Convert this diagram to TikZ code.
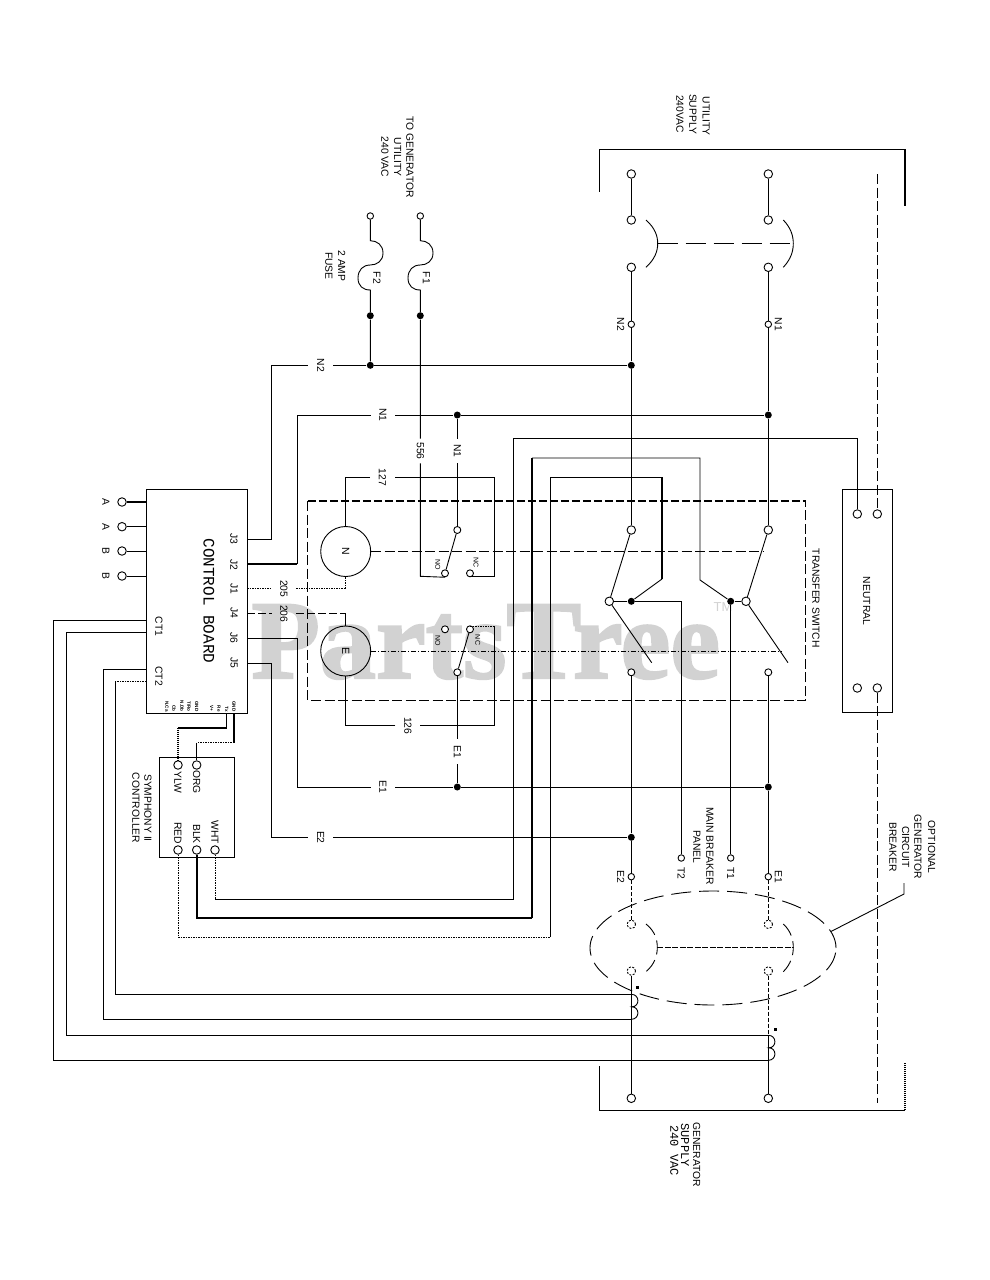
\documentclass[tikz,border=0pt]{standalone}
\usepackage{fontspec}
\setmainfont{Liberation Sans}
\setmonofont{Liberation Mono}
\newfontfamily\wmfont[BoldFeatures={FakeBold=2}]{Liberation Serif}
\usetikzlibrary{shapes.geometric}
\definecolor{wmgray}{HTML}{D2D2D2}
\tikzstyle{wire} = [line width=0.9pt, draw=black]
\tikzstyle{thickwire} = [line width=2pt, draw=black]
\tikzstyle{medwire} = [line width=1.2pt, draw=black]
\tikzstyle{dotwire} = [line width=1pt, draw=black, dash pattern=on 1.5pt off 1pt]
\tikzstyle{densewire} = [line width=1.3pt, draw=black, dash pattern=on 1.5pt off 0.5pt]
\tikzstyle{dashwire} = [line width=0.9pt, draw=black, dash pattern=on 10pt off 3.5pt]
\tikzstyle{thickdash} = [line width=1.5pt, draw=black, dash pattern=on 8pt off 3pt]
\tikzstyle{longdash} = [line width=0.9pt, draw=black, dash pattern=on 20pt off 8pt]
\tikzstyle{dashdot} = [line width=0.9pt, draw=black, dash pattern=on 5pt off 2pt on 1pt off 2pt]
\tikzstyle{term} = [circle, draw=black, fill=white, inner sep=0pt, minimum size=8.5pt]
\tikzstyle{smallterm} = [term, minimum size=6.5pt]
\tikzstyle{dashterm} = [circle, draw=black, inner sep=0pt, minimum size=8.5pt, dash pattern=on 2pt off 1.5pt]
\tikzstyle{junction} = [circle, fill=black, inner sep=0pt, minimum size=7pt]
\tikzstyle{ctdot} = [rectangle, fill=black, inner sep=0pt, minimum size=3pt]
\tikzstyle{motor} = [circle, draw=black, inner sep=0pt, minimum size=50pt, rotate=-90, font=\fontsize{10.5}{10.5}\selectfont]
\tikzstyle{lbl} = [rotate=-90, inner sep=0pt, font=\fontsize{10.3}{12}\selectfont]
\tikzstyle{sidelbl} = [lbl, anchor=west]
\tikzstyle{wirelbl} = [lbl, minimum width=24pt, minimum height=24pt]
\tikzstyle{tinylbl} = [lbl, anchor=east, font=\bfseries\fontsize{4.6}{5}\selectfont]
\tikzstyle{relaylbl} = [lbl, font=\fontsize{7}{8}\selectfont]
\begin{document}
\begin{tikzpicture}[x=1pt,y=-1pt,line width=0.9pt]
	\useasboundingbox (0,0) rectangle (989,1280);
	% watermark
	\node (wmark) [anchor=base west, inner sep=0pt, text=wmgray, font=\wmfont\bfseries\fontsize{112}{112}\selectfont] at (251,678) {PartsTree};
	\node (wmtm) [text=wmgray, inner sep=0pt, font=\fontsize{13}{13}\selectfont] at (723,607) {TM};

	% boxes
	\node (board) [draw=black, minimum width=100.7pt, minimum height=223.7pt] at (196.6,601.2) {};
	\node (sym) [draw=black, minimum width=74.7pt, minimum height=100pt] at (196.7,807.3) {};
	\node (tsbox) [minimum width=497pt, minimum height=198.3pt] at (556.8,600.8) {};
	\draw[dashwire] (tsbox.north west) -- (tsbox.south west) -- (tsbox.south east) -- (tsbox.north east);
	\draw[thickdash] (tsbox.north west) -- (tsbox.north east);
	\node (neutralbox) [draw=black, minimum width=50pt, minimum height=223.4pt] at (867.3,601) {};
	\node (genbrk) [ellipse, longdash, inner sep=0pt, minimum width=246pt, minimum height=114pt] at (713,948) {};
	\draw[wire] (599.3,191.7) -- (599.3,149.3) -- (905,149.3);
	\draw[densewire] (905,149.3) -- (905,205.7);
	\draw[wire] (599.3,1066) -- (599.3,1110.3) -- (905,1110.3);
	\draw[densewire] (905,1110.3) -- (905,1062.3);

	% terminals
	\node (pinA1) [term] at (122,502) {};
	\node (pinA2) [term] at (122,526.7) {};
	\node (pinB1) [term] at (122,551) {};
	\node (pinB2) [term] at (122,576) {};
	\node (ylw) [term] at (178,765) {};
	\node (org) [term] at (196.7,765) {};
	\node (red) [term] at (178,850) {};
	\node (blk) [term] at (196.7,850) {};
	\node (wht) [term] at (215,850) {};
	\node (f2top) [smallterm] at (370.3,216) {};
	\node (f1top) [smallterm] at (420.3,216) {};
	\node (utilL1) [term] at (631.3,174) {};
	\node (utilL2) [term] at (631.3,220) {};
	\node (utilL3) [term] at (631.3,267.3) {};
	\node (utilR1) [term] at (768.3,174) {};
	\node (utilR2) [term] at (768.3,220) {};
	\node (utilR3) [term] at (768.3,267.3) {};
	\node (smallN2) [smallterm] at (631.3,324.3) {};
	\node (smallN1) [smallterm] at (768.3,324.3) {};
	\node (upperL) [term] at (631.3,530) {};
	\node (upperR) [term] at (768.3,530) {};
	\node (pivotL) [term] at (609.3,601.3) {};
	\node (pivotR) [term] at (746,601.3) {};
	\node (lowerL) [smallterm, minimum size=7pt] at (631.3,672.3) {};
	\node (lowerR) [smallterm, minimum size=7pt] at (768.3,672.3) {};
	\node (commN) [smallterm, minimum size=7pt] at (457.3,530) {};
	\node (noN) [smallterm, minimum size=7pt] at (445,573.3) {};
	\node (ncN) [smallterm, minimum size=7pt] at (470,573.3) {};
	\node (commE) [smallterm, minimum size=7pt] at (457.3,672.3) {};
	\node (noE) [smallterm, minimum size=7pt] at (445,629.3) {};
	\node (ncE) [smallterm, minimum size=7pt] at (470,629.3) {};
	\node (neutA) [term] at (857.3,514) {};
	\node (neutB) [term] at (877.3,514) {};
	\node (neutC) [term] at (857.3,688) {};
	\node (neutD) [term] at (877.3,688) {};
	\node (t2) [smallterm] at (681.3,858) {};
	\node (t1) [smallterm] at (730.7,858) {};
	\node (smallE2) [smallterm] at (631.3,876.7) {};
	\node (smallE1) [smallterm] at (768.3,876.7) {};
	\node (brkL1) [dashterm] at (631.3,924.3) {};
	\node (brkL2) [dashterm] at (631.3,971) {};
	\node (brkR1) [dashterm] at (768.3,924.3) {};
	\node (brkR2) [dashterm] at (768.3,971) {};
	\node (genL) [term] at (631.3,1098.3) {};
	\node (genR) [term] at (768.3,1098.3) {};

	% junctions
	\node (dotF2) [junction] at (370.3,315.7) {};
	\node (dotF1) [junction] at (420.3,315.7) {};
	\node (dotN2a) [junction] at (370.3,365.3) {};
	\node (dotN2b) [junction] at (631.3,365.3) {};
	\node (dotN1a) [junction] at (457.3,415) {};
	\node (dotN1b) [junction] at (768.3,415) {};
	\node (dotL) [junction] at (631.3,601.3) {};
	\node (dotR) [junction] at (730.7,601.3) {};
	\node (dotE1a) [junction] at (457.3,787) {};
	\node (dotE1b) [junction] at (768.3,787) {};
	\node (dotE2) [junction] at (631.3,837.3) {};
	\node (ctmarkL) [ctdot] at (637.7,987.7) {};
	\node (ctmarkR) [ctdot] at (775,1029.3) {};

	% motors
	\node (motorN) [motor] at (345.7,551.5) {N};
	\node (motorE) [motor] at (345.7,651) {E};

	% labels sitting in the wires
	\node (labN2) [wirelbl] at (320.7,365.3) {N2};
	\node (labN1) [wirelbl] at (383,415) {N1};
	\node (lab556) [wirelbl] at (420.3,451) {556};
	\node (labN1v) [wirelbl] at (457.3,451) {N1};
	\node (lab127) [wirelbl] at (382.5,477.3) {127};
	\node (lab205) [wirelbl] at (284,588.7) {205};
	\node (lab206) [wirelbl] at (284,613.7) {206};
	\node (lab126) [wirelbl] at (407.8,725.7) {126};
	\node (labE1v) [wirelbl] at (457.3,751.7) {E1};
	\node (labE1) [wirelbl] at (383,787) {E1};
	\node (labE2) [wirelbl] at (320.7,837.3) {E2};

	% pins on the board
	\coordinate (j3) at (247,539);
	\coordinate (j2) at (247,564);
	\coordinate (j1) at (247,588.7);
	\coordinate (j4) at (247,613.7);
	\coordinate (j6) at (247,638.3);
	\coordinate (j5) at (247,663);
	\coordinate (ct1a) at (146.3,620);
	\coordinate (ct1b) at (146.3,632.7);
	\coordinate (ct2a) at (146.3,669.3);
	\coordinate (ct2b) at (146.3,681.7);
	\coordinate (txpin) at (226.7,713);
	\coordinate (gndpin) at (234,713);

	% control board wires
	\draw[thickwire] (pinA1) -- (pinA1 -| board.west);
	\draw[wire] (pinA2) -- (pinA2 -| board.west);
	\draw[wire] (pinB1) -- (pinB1 -| board.west);
	\draw[wire] (pinB2) -- (pinB2 -| board.west);
	\draw[wire] (j3) -- (271,539) -- (271,365.3) -- (labN2) -- (dotN2a) -- (dotN2b);
	\draw[thickwire] (j2) -- (297,564);
	\draw[wire] (297,564) -- (297,415) -- (labN1) -- (dotN1a) -- (dotN1b);
	\draw[dotwire] (j1) -- (lab205) -- (345.7,588.7);
	\draw[dotwire] (345.7,588.7) -- (motorN);
	\draw[thickdash] (j4) -- (lab206) -- (345.7,613.7);
	\draw[wire] (345.7,613.7) -- (motorE);
	\draw[wire] (j6) -- (297,638.3) -- (297,787) -- (labE1) -- (dotE1a) -- (dotE1b);
	\draw[wire] (j5) -- (271,663) -- (271,837.3) -- (labE2) -- (dotE2);
	\draw[wire] (ct1a) -- (53.3,620) -- (53.3,1060.3) -- (768.3,1060.3);
	\draw[wire] (ct1b) -- (66.3,632.7) -- (66.3,1035.3) -- (768.3,1035.3);
	\draw[wire] (ct2a) -- (103.3,669.3) -- (103.3,1019.3) -- (631.3,1019.3);
	\draw[dotwire] (ct2b) -- (115.3,681.7);
	\draw[wire] (115.3,681.7) -- (115.3,994.3) -- (631.3,994.3);
	\draw[wire] (txpin) -- (226.7,727.7);
	\draw[thickwire] (226.7,727.7) -- (178,727.7);
	\draw[densewire] (178,727.7) -- (ylw);
	\draw[densewire] (gndpin) -- (234,742.7);
	\draw[dotwire] (234,742.7) -- (196.7,742.7);
	\draw[wire] (196.7,742.7) -- (org);
	\draw[densewire] (sym.north east) -- (sym.south east);

	% controller wires
	\draw[dotwire] (wht) -- (215,899.3);
	\draw[wire] (215,899.3) -- (513.3,899.3) -- (513.3,438) -- (857.3,438) -- (neutA);
	\draw[thickwire] (blk) -- (196.7,918) -- (532,918);
	\draw[medwire] (532,918) -- (532,458);
	\draw[wire] (532,458) -- (700,458) -- (700,580) -- (dotR);
	\draw[dotwire] (red) -- (178,937) -- (550.7,937);
	\draw[medwire] (550.7,937) -- (550.7,477.3);
	\draw[wire] (550.7,477.3) -- (662,477.3);
	\draw[densewire] (662,477.3) -- (662,579);
	\draw[wire] (662,579) -- (dotL);

	% fuses
	\draw[wire] (f2top) -- (370.3,240.7) .. controls (377,240.7) and (383,245) .. (383,253) .. controls (383,261) and (377,265) .. (370.3,265) .. controls (363,265) and (358,270) .. (358,278) .. controls (358,286) and (363,290) .. (370.3,290) -- (dotF2) -- (dotN2a);
	\draw[wire] (f1top) -- (420.3,240.7) .. controls (427,240.7) and (433,245) .. (433,253) .. controls (433,261) and (427,265) .. (420.3,265) .. controls (413,265) and (408,270) .. (408,278) .. controls (408,286) and (413,290) .. (420.3,290) -- (dotF1);
	\draw[wire] (dotF1) -- (lab556) -- (420.3,576.3) -- (noN.south);

	% relays
	\draw[wire] (dotN1a) -- (labN1v) -- (commN);
	\draw[wire] (commN) -- (noN);
	\draw[wire] (470,576.6) -- (494.3,576.6) -- (494.3,477.3) -- (lab127) -- (345.7,477.3) -- (motorN);
	\draw[wire] (commE) -- (ncE);
	\draw[dotwire] (470,626.3) -- (494.3,626.3);
	\draw[wire] (494.3,626.3) -- (494.3,725.7) -- (lab126) -- (345.7,725.7) -- (motorE);
	\draw[wire] (commE) -- (labE1v) -- (dotE1a);
	\draw[dashwire] (motorN) -- (763,551.5);
	\draw[dashdot] (motorE) -- (781.7,651);

	% main contacts
	\draw[wire] (utilL1) -- (utilL2);
	\draw[wire] (utilR1) -- (utilR2);
	\draw[wire] (utilL3) -- (smallN2) -- (dotN2b) -- (upperL);
	\draw[wire] (utilR3) -- (smallN1) -- (dotN1b) -- (upperR);
	\draw[wire] (646,220) .. controls (655,228) and (657.7,236) .. (657.7,243.5) .. controls (657.7,251) and (655,259) .. (646,267.3);
	\draw[wire] (783.3,220) .. controls (791,228) and (793.3,236) .. (793.3,243.5) .. controls (793.3,251) and (791,259) .. (783.3,267.3);
	\draw[longdash] (657.7,243.5) -- (793.3,243.5);
	\draw[wire] (upperL) -- (pivotL) -- (651.7,662.7);
	\draw[wire] (upperR) -- (pivotR) -- (788,662.7);
	\draw[wire] (pivotL) -- (dotL) -- (681.3,601.3) -- (t2);
	\draw[wire] (pivotR) -- (dotR) -- (t1);
	\draw[wire] (lowerL) -- (dotE2) -- (smallE2);
	\draw[wire] (lowerR) -- (dotE1b) -- (smallE1);

	% neutral
	\draw[dashwire] (877.3,174) -- (neutB);
	\draw[dashwire] (neutD) -- (877.3,1102.7);

	% generator breaker
	\draw[dashwire, dash pattern=on 4pt off 2pt] (smallE2) -- (brkL1);
	\draw[dashwire, dash pattern=on 4pt off 2pt] (smallE1) -- (brkR1);
	\draw[wire] (brkL2) -- (genL);
	\draw[dashwire, dash pattern=on 4pt off 2pt] (brkR2) -- (768.3,1035.3);
	\draw[wire] (768.3,1035.3) -- (genR);
	\draw[dashwire, dash pattern=on 14pt off 6pt] (646,924) .. controls (655,931) and (657.3,940) .. (657.3,947.3) .. controls (657.3,955) and (655,964) .. (646,971.7);
	\draw[dashwire, dash pattern=on 14pt off 6pt] (783.3,924) .. controls (791,931) and (793.3,940) .. (793.3,947.3) .. controls (793.3,955) and (791,964) .. (783.3,971.7);
	\draw[dashwire, dash pattern=on 6pt off 1.5pt] (657.3,947.3) -- (793.3,947.3);
	\draw[wire] (genbrk.8) -- (904,894) -- (904,883);

	% current coils
	\draw[wire] (631.3,994.3) .. controls (640,994.3) and (640,1006.8) .. (631.8,1006.8) .. controls (640,1006.8) and (640,1019.3) .. (631.3,1019.3);
	\draw[wire] (768.3,1035.3) .. controls (777,1035.3) and (777,1047.8) .. (768.8,1047.8) .. controls (777,1047.8) and (777,1060.3) .. (768.3,1060.3);

	% text
	\node (txtA1) [lbl] at (106,502) {A};
	\node (txtA2) [lbl] at (106,526.7) {A};
	\node (txtB1) [lbl] at (106,551) {B};
	\node (txtB2) [lbl] at (106,576) {B};
	\node (txtJ3) [lbl] at (234,539) {J3};
	\node (txtJ2) [lbl] at (234,565) {J2};
	\node (txtJ1) [lbl] at (234,589) {J1};
	\node (txtJ4) [lbl] at (234,613) {J4};
	\node (txtJ6) [lbl] at (234,638) {J6};
	\node (txtJ5) [lbl] at (234,663) {J5};
	\node (txtboard) [lbl, font=\ttfamily\fontsize{16}{16}\selectfont] at (209,601) {CONTROL BOARD};
	\node (txtCT1) [lbl] at (159,626.7) {CT1};
	\node (txtCT2) [lbl] at (159,676) {CT2};
	\node (tinyA) [tinylbl] at (167,712) {N.Ca};
	\node (tinyB) [tinylbl] at (174,712) {Cb};
	\node (tinyC) [tinylbl] at (182,712) {N.Db};
	\node (tinyD) [tinylbl] at (189,712) {T/Ro};
	\node (tinyE) [tinylbl] at (196.7,712) {GND};
	\node (tinyF) [tinylbl] at (211.7,712) {V+};
	\node (tinyG) [tinylbl] at (219,712) {Re};
	\node (tinyH) [tinylbl] at (226.7,712) {Tx};
	\node (tinyI) [tinylbl] at (234,712) {GND};
	\node (txtYLW) [lbl] at (178,782) {YLW};
	\node (txtORG) [lbl] at (196.7,782) {ORG};
	\node (txtRED) [lbl] at (178,833) {RED};
	\node (txtBLK) [lbl] at (196.7,834) {BLK};
	\node (txtWHT) [lbl] at (215,832) {WHT};
	\node (txtsym) [lbl] at (148,808) {SYMPHONY II};
	\node (txtctrl) [lbl] at (136,808) {CONTROLLER};
	\node (txtF2) [lbl] at (377,278) {F2};
	\node (txtF1) [lbl] at (426.5,278) {F1};
	\node (txtamp) [lbl] at (341.7,266) {2 AMP};
	\node (txtfuse) [lbl] at (329,266) {FUSE};
	\node (txtgen) [lbl] at (410,157) {TO GENERATOR};
	\node (txtutil) [lbl] at (397.7,157) {UTILITY};
	\node (txtvac) [lbl] at (385,157) {240 VAC};
	\node (txtusup1) [lbl] at (706,116) {UTILITY};
	\node (txtusup2) [lbl] at (693,114) {SUPPLY};
	\node (txtusup3) [lbl] at (680,114) {240VAC};
	\node (txtN2) [lbl] at (620.7,324.3) {N2};
	\node (txtN1) [lbl] at (778.3,324.3) {N1};
	\node (txtNOn) [relaylbl] at (437.7,565) {NO};
	\node (txtNCn) [relaylbl] at (476,562.7) {NC};
	\node (txtNOe) [relaylbl] at (437.7,640.7) {NO};
	\node (txtNCe) [relaylbl] at (477.7,640) {NC};
	\node (txtswitch) [lbl] at (816,598.3) {TRANSFER SWITCH};
	\node (txtneutral) [lbl] at (866.7,601) {NEUTRAL};
	\node (txtE2) [lbl] at (620.7,876.7) {E2};
	\node (txtE1) [lbl] at (778.3,876.7) {E1};
	\node (txtT2) [lbl] at (681.3,873) {T2};
	\node (txtT1) [lbl] at (730.7,873) {T1};
	\node (txtmain) [lbl] at (710,846) {MAIN BREAKER};
	\node (txtpanel) [lbl] at (697,847) {PANEL};
	\node (txtopt) [lbl] at (931.7,847) {OPTIONAL};
	\node (txtgenr) [lbl] at (918,847) {GENERATOR};
	\node (txtcirc) [lbl] at (905.7,847) {CIRCUIT};
	\node (txtbrk) [lbl] at (893,847) {BREAKER};
	\node (txtgsup1) [sidelbl] at (696.7,1122) {GENERATOR};
	\node (txtgsup2) [sidelbl, font=\ttfamily\fontsize{12}{12}\selectfont] at (685,1123) {SUPPLY};
	\node (txtgsup3) [sidelbl, font=\ttfamily\fontsize{12}{12}\selectfont] at (674.3,1125) {240 VAC};
\end{tikzpicture}
\end{document}
